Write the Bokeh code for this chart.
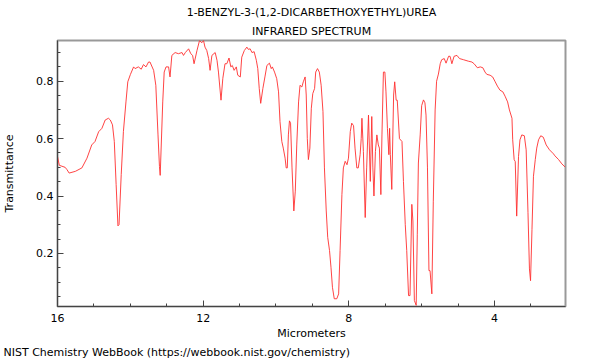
from bokeh.plotting import figure
from bokeh.models import Range1d, FixedTicker, Title
from bokeh.embed import file_html
from bokeh.resources import INLINE

# Wavelength (micrometers) and transmittance
wavelength_um = [
    16.00, 15.95, 15.79, 15.74, 15.68, 15.51, 15.33, 15.19, 15.06, 14.97,
    14.87, 14.78, 14.69, 14.60, 14.55, 14.49, 14.44, 14.39, 14.34, 14.31,
    14.25, 14.19, 14.12, 14.07, 14.00, 13.91, 13.87, 13.78, 13.70, 13.64,
    13.57, 13.50, 13.46, 13.36, 13.30, 13.24, 13.20, 13.18, 13.11, 13.07,
    13.02, 12.95, 12.91, 12.86, 12.77, 12.68, 12.58, 12.54, 12.49, 12.40,
    12.34, 12.29, 12.25, 12.17, 12.10, 12.04, 11.99, 11.95, 11.90, 11.85,
    11.81, 11.76, 11.67, 11.62, 11.58, 11.51, 11.46, 11.40, 11.35, 11.29,
    11.24, 11.20, 11.15, 11.09, 11.05, 10.98, 10.94, 10.87, 10.80, 10.76,
    10.71, 10.66, 10.60, 10.54, 10.50, 10.46, 10.42, 10.36, 10.30, 10.25,
    10.18, 10.13, 10.10, 10.04, 9.98, 9.93, 9.89, 9.84, 9.80, 9.75,
    9.72, 9.69, 9.66, 9.63, 9.60, 9.56, 9.51, 9.47, 9.43, 9.38,
    9.34, 9.29, 9.25, 9.20, 9.17, 9.14, 9.11, 9.07, 9.03, 8.99,
    8.94, 8.91, 8.86, 8.81, 8.76, 8.71, 8.67, 8.62, 8.58, 8.53,
    8.49, 8.45, 8.40, 8.33, 8.28, 8.24, 8.19, 8.15, 8.10, 8.05,
    8.01, 7.96, 7.92, 7.87, 7.83, 7.78, 7.74, 7.69, 7.66, 7.64,
    7.60, 7.55, 7.51, 7.46, 7.41, 7.37, 7.34, 7.31, 7.27, 7.23,
    7.19, 7.16, 7.12, 7.09, 7.05, 7.01, 6.98, 6.94, 6.90, 6.88,
    6.86, 6.82, 6.77, 6.74, 6.70, 6.67, 6.61, 6.54, 6.50, 6.45,
    6.41, 6.36, 6.32, 6.27, 6.24, 6.20, 6.15, 6.12, 6.09, 6.04,
    6.00, 5.95, 5.91, 5.88, 5.84, 5.80, 5.77, 5.72, 5.68, 5.63,
    5.59, 5.54, 5.49, 5.45, 5.38, 5.33, 5.26, 5.22, 5.17, 5.11,
    5.03, 4.96, 4.85, 4.72, 4.62, 4.56, 4.47, 4.39, 4.32, 4.26,
    4.21, 4.12, 4.05, 3.98, 3.92, 3.85, 3.77, 3.71, 3.64, 3.59,
    3.52, 3.50, 3.46, 3.43, 3.39, 3.34, 3.30, 3.25, 3.18, 3.13,
    3.08, 3.04, 3.01, 2.97, 2.93, 2.88, 2.84, 2.79, 2.73, 2.66,
    2.58, 2.49, 2.38, 2.34, 2.24, 2.15, 2.06,
]

transmittance = [
    0.538, 0.507, 0.500, 0.492, 0.480, 0.486, 0.498, 0.532, 0.578, 0.590,
    0.624, 0.636, 0.665, 0.671, 0.665, 0.648, 0.590, 0.440, 0.296, 0.300,
    0.475, 0.625, 0.728, 0.798, 0.823, 0.850, 0.844, 0.850, 0.842, 0.858,
    0.850, 0.867, 0.867, 0.838, 0.786, 0.613, 0.503, 0.472, 0.728, 0.832,
    0.850, 0.850, 0.815, 0.890, 0.900, 0.896, 0.900, 0.890, 0.900, 0.913,
    0.896, 0.890, 0.861, 0.907, 0.942, 0.934, 0.942, 0.919, 0.907, 0.879,
    0.838, 0.890, 0.900, 0.873, 0.832, 0.734, 0.810, 0.861, 0.861, 0.881,
    0.850, 0.855, 0.838, 0.850, 0.821, 0.815, 0.884, 0.907, 0.919, 0.911,
    0.913, 0.900, 0.903, 0.873, 0.844, 0.775, 0.723, 0.775, 0.818, 0.855,
    0.863, 0.844, 0.850, 0.832, 0.809, 0.763, 0.659, 0.590, 0.567, 0.532,
    0.498, 0.498, 0.613, 0.662, 0.654, 0.498, 0.348, 0.417, 0.578, 0.728,
    0.786, 0.780, 0.798, 0.815, 0.752, 0.600, 0.527, 0.567, 0.706, 0.757,
    0.775, 0.832, 0.844, 0.832, 0.786, 0.694, 0.498, 0.348, 0.256, 0.210,
    0.152, 0.082, 0.042, 0.042, 0.059, 0.210, 0.405, 0.498, 0.521, 0.509,
    0.532, 0.625, 0.654, 0.645, 0.567, 0.498, 0.498, 0.544, 0.600, 0.671,
    0.555, 0.325, 0.498, 0.682, 0.451, 0.677, 0.498, 0.400, 0.555, 0.613,
    0.578, 0.567, 0.405, 0.613, 0.832, 0.832, 0.763, 0.636, 0.544, 0.636,
    0.544, 0.423, 0.752, 0.798, 0.734, 0.734, 0.600, 0.590, 0.451, 0.300,
    0.210, 0.053, 0.053, 0.371, 0.313, 0.036, 0.019, 0.267, 0.515, 0.613,
    0.715, 0.735, 0.725, 0.682, 0.498, 0.140, 0.140, 0.059, 0.382, 0.700,
    0.800, 0.825, 0.861, 0.875, 0.879, 0.863, 0.887, 0.887, 0.861, 0.887,
    0.890, 0.879, 0.875, 0.870, 0.867, 0.861, 0.847, 0.850, 0.847, 0.832,
    0.824, 0.821, 0.815, 0.798, 0.783, 0.769, 0.763, 0.748, 0.728, 0.700,
    0.671, 0.596, 0.527, 0.520, 0.330, 0.538, 0.596, 0.613, 0.610, 0.561,
    0.342, 0.146, 0.105, 0.284, 0.469, 0.527, 0.567, 0.596, 0.610, 0.605,
    0.578, 0.561, 0.547, 0.540, 0.527, 0.512, 0.501,
]

x_major_ticks = [16, 12, 8, 4]
x_minor_ticks = [3, 5, 6, 7, 9, 10, 11, 13, 14, 15]
y_major_ticks = [0.2, 0.4, 0.6, 0.8]
y_minor_ticks = [0.05, 0.1, 0.15, 0.25, 0.3, 0.35, 0.45, 0.5, 0.55,
                 0.65, 0.7, 0.75, 0.85, 0.9]

title_line1 = "1-BENZYL-3-(1,2-DICARBETHOXYETHYL)UREA"
title_line2 = "INFRARED SPECTRUM"
x_label = "Micrometers"
y_label = "Transmittance"
footer = "NIST Chemistry WebBook (https://webbook.nist.gov/chemistry)"

FONT = "DejaVu Sans"
FS = "11px"

p = figure(width=600, height=360,
           x_range=Range1d(16, 2.05), y_range=Range1d(0.015, 0.942),
           output_backend="svg", toolbar_location=None,
           min_border_left=57, min_border_right=35,
           min_border_top=40, min_border_bottom=52,
           background_fill_color="white", border_fill_color="white")

p.line(wavelength_um, transmittance, line_color="#ff3030", line_width=1,
       line_alpha=0.9)

p.grid.visible = False
p.outline_line_color = "#999999"
p.outline_line_width = 2

for ax in (p.xaxis[0], p.yaxis[0]):
    ax.axis_line_color = "#444444"
    ax.axis_line_width = 1
    ax.major_tick_in = 6
    ax.major_tick_out = 0
    ax.minor_tick_in = 3
    ax.minor_tick_out = 0
    ax.major_tick_line_color = "#444444"
    ax.minor_tick_line_color = "#444444"
    ax.major_label_text_font = FONT
    ax.major_label_text_font_size = FS
    ax.major_label_text_color = "#000000"
    ax.axis_label_text_font = FONT
    ax.axis_label_text_font_size = FS
    ax.axis_label_text_font_style = "normal"
    ax.axis_label_text_color = "#000000"

p.xaxis.ticker = FixedTicker(ticks=x_major_ticks, minor_ticks=x_minor_ticks)
p.yaxis.ticker = FixedTicker(ticks=y_major_ticks, minor_ticks=y_minor_ticks)
p.xaxis.axis_label = x_label
p.yaxis.axis_label = y_label
p.xaxis.major_label_standoff = 7
p.xaxis.axis_label_standoff = 2
p.yaxis.major_label_standoff = 4
p.yaxis.axis_label_standoff = 17

t2 = Title(text=title_line2, align="center", text_font=FONT, text_font_size=FS,
           text_font_style="normal", text_color="#000000", standoff=6)
t1 = Title(text=title_line1, align="center", text_font=FONT, text_font_size=FS,
           text_font_style="normal", text_color="#000000", standoff=2)
p.add_layout(t2, "above")
p.add_layout(t1, "above")

tf = Title(text=footer, align="left", text_font=FONT, text_font_size=FS,
           text_font_style="normal", text_color="#000000", standoff=3, offset=-54)
p.add_layout(tf, "below")

open("out.html", "w").write(file_html(p, INLINE))
